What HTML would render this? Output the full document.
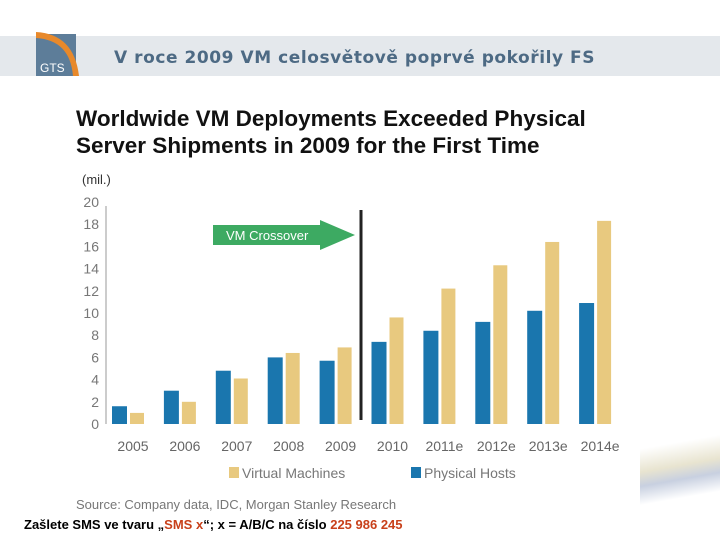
<!DOCTYPE html>
<html><head><meta charset="utf-8"><style>
body{margin:0;width:720px;height:540px;background:#fff;position:relative;overflow:hidden;font-family:"Liberation Sans",sans-serif}
.abs{position:absolute}
</style></head><body>
<div class="abs" style="left:0;top:36px;width:720px;height:40px;background:#e4e8ec"></div>
<svg class="abs" style="left:34px;top:28px" width="50" height="50">
<rect x="2" y="6" width="40" height="42" fill="#5d7d99"/>
<path d="M2 4 Q40 6 45 48 L39 48 Q36 12 2 10Z" fill="#e8892b"/>
<text x="6" y="44" font-size="12" fill="#fff" font-family="Liberation Sans">GTS</text>
</svg>
<div class="abs" style="left:114px;top:48px;font-size:17px;font-weight:bold;color:#4d6a84;font-family:'DejaVu Sans',sans-serif;letter-spacing:0.55px">V roce 2009 VM celosvětově poprvé pokořily FS</div>
<div class="abs" style="left:76px;top:105px;font-size:22.5px;font-weight:bold;line-height:27px;color:#111">Worldwide VM Deployments Exceeded Physical<br>Server Shipments in 2009 for the First Time</div>
<div class="abs" style="left:82px;top:172px;font-size:13px;color:#333">(mil.)</div>
<div class="abs" style="left:640px;top:430px;width:80px;height:80px;background:linear-gradient(170deg,#fff 20%,#e8e4d0 45%,#c8d0e0 60%,#fff 80%)"></div>
<svg id="chart" class="abs" style="left:0;top:0" width="720" height="540"></svg>
<div class="abs" style="left:76px;top:497px;font-size:13px;color:#777">Source: Company data, IDC, Morgan Stanley Research</div>
<div class="abs" style="left:24px;top:517px;font-size:13px;font-weight:bold;color:#000">Zašlete SMS ve tvaru „<span style="color:#c8401a">SMS x</span>“; x = A/B/C na číslo <span style="color:#c8401a">225 986 245</span></div>
<script>
const categories=["2005","2006","2007","2008","2009","2010","2011e","2012e","2013e","2014e"];
const physicalHosts=[1.6,3.0,4.8,6.0,5.7,7.4,8.4,9.2,10.2,10.9];
const virtualMachines=[1.0,2.0,4.1,6.4,6.9,9.6,12.2,14.3,16.4,18.3];
const yTicks=[0,2,4,6,8,10,12,14,16,18,20];
const NS="http://www.w3.org/2000/svg";
const svg=document.getElementById('chart');
const y0=424,y1=202,yMax=20;
const yScale=v=>y0-(v/yMax)*(y0-y1);
const xStart=112,step=51.9,bw=15;
const xScale=i=>xStart+i*step;
function mk(t,a){const e=document.createElementNS(NS,t);for(const k in a)e.setAttribute(k,a[k]);svg.appendChild(e);return e;}
let ax=mk('line',{x1:106,y1:y0,x2:106,y2:y1+4,stroke:'#999','stroke-width':1});


yTicks.forEach(t=>{const e=mk('text',{x:99,y:yScale(t)+5,'text-anchor':'end','font-size':14,fill:'#777','font-family':'Liberation Sans'});e.textContent=t;

});
categories.forEach((c,i)=>{
const x=xScale(i);
const b=mk('rect',{x:x,y:yScale(physicalHosts[i]),width:bw,height:y0-yScale(physicalHosts[i]),fill:'#1a76ae'});


const g=mk('rect',{x:x+bw+3,y:yScale(virtualMachines[i]),width:bw-1,height:y0-yScale(virtualMachines[i]),fill:'#e8c97f'});


const t=mk('text',{x:x+bw+6,y:451,'text-anchor':'middle','font-size':14,fill:'#666','font-family':'Liberation Sans'});t.textContent=c;


});
const cl=mk('line',{x1:361,y1:210,x2:361,y2:420,stroke:'#222','stroke-width':3});


const ar=mk('polygon',{points:'213,225 320,225 320,220 355,235 320,250 320,245 213,245',fill:'#3daa62'});


const at=mk('text',{x:226,y:240,'font-size':13,fill:'#fff','font-family':'Liberation Sans'});at.textContent='VM Crossover';


const l1=mk('rect',{x:229,y:467,width:10,height:11,fill:'#e8c97f'});


const lt1=mk('text',{x:242,y:478,'font-size':14,fill:'#777','font-family':'Liberation Sans'});lt1.textContent='Virtual  Machines';


const l2=mk('rect',{x:411,y:467,width:10,height:11,fill:'#1a76ae'});


const lt2=mk('text',{x:424,y:478,'font-size':14,fill:'#777','font-family':'Liberation Sans'});lt2.textContent='Physical Hosts';


</script>
</body></html>
